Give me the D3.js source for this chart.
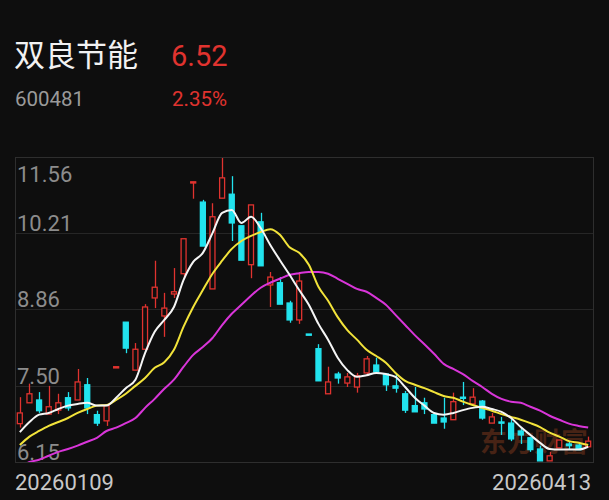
<!DOCTYPE html>
<html>
<head>
<meta charset="utf-8">
<script src="https://cdn.jsdelivr.net/npm/d3@7/dist/d3.min.js"></script>
<style>
  html, body { margin: 0; padding: 0; background: #0e0e0e; }
  svg { display: block; font-family: Roboto, "Noto Sans", sans-serif; }
</style>
</head>
<body>
<svg id="chart" width="609" height="500"></svg>
<script>
// header texts
var stockName = "双良节能", stockCode = "600481", lastPrice = "6.52", changePct = "2.35%";

// y tick labels and x labels
var yTicks = [11.56, 10.21, 8.86, 7.50, 6.15];
var xLabels = ["20260109", "20260413"];

// daily candles
var opens  = [6.83,7.20,7.25,7.00,7.07,7.29,7.25,7.52,6.99,6.88, 7.84,8.63,7.78,8.15,9.06,8.74,9.13,9.49,11.12,10.76,
              9.22,10.83,10.90,10.34,9.65,10.41,9.29,9.33,8.97,8.67, 8.42,8.16,7.36,7.71,7.55,7.48,7.73,7.87,7.71,7.50,
              7.36,7.15,7.20,6.99,6.93,6.90,7.30,7.18,7.23,6.84, 6.86,6.84,6.70,6.58,6.38,6.17,6.40,6.47,6.45,6.42];
var highs  = [7.30,7.54,7.39,7.50,7.36,7.39,7.80,7.64,7.06,7.15, 7.84,8.63,8.26,8.95,9.72,9.15,9.59,10.11,11.12,10.80,
              10.74,11.56,11.22,10.34,10.71,10.57,9.52,9.43,9.01,9.52, 8.42,8.24,7.84,7.75,7.73,7.73,8.03,8.00,7.71,7.71,
              7.41,7.48,7.29,7.02,7.29,7.38,7.57,7.46,7.25,7.02, 6.95,6.91,6.76,6.60,6.44,6.33,6.54,6.51,6.49,6.60];
var lows   = [6.76,7.20,7.02,7.00,7.00,7.06,7.25,7.00,6.79,6.79, 7.84,8.08,7.78,8.15,8.88,8.37,9.06,9.41,10.82,9.98,
              9.22,10.83,10.07,9.73,9.41,9.63,8.90,8.95,8.62,8.60, 8.42,7.59,7.36,7.54,7.48,7.38,7.69,7.75,7.41,7.38,
              7.02,7.04,7.00,6.84,6.74,6.90,7.16,7.18,6.90,6.84, 6.63,6.52,6.47,6.33,6.17,6.17,6.40,6.38,6.37,6.42];
var closes = [7.02,7.36,7.06,7.13,7.20,7.11,7.57,7.11,6.84,7.15, 7.84,8.17,8.15,8.90,9.25,8.88,9.17,10.11,11.12,9.98,
              10.50,11.19,10.39,9.73,10.71,9.63,9.43,8.95,8.67,9.36, 8.42,7.59,7.57,7.64,7.66,7.68,7.98,7.75,7.52,7.46,
              7.07,7.04,7.09,6.84,6.86,7.22,7.29,7.30,6.93,6.95, 6.84,6.56,6.63,6.37,6.17,6.26,6.54,6.44,6.37,6.52];

// moving averages as drawn
var ma5  = [6.68,6.86,6.99,7.02,7.09,7.15,7.18,7.20,7.15,7.15, 7.29,7.46,7.61,8.08,8.46,8.67,8.90,9.38,9.70,9.86,
            10.21,10.57,10.62,10.39,10.50,10.30,10.00,9.73,9.47,9.20, 8.94,8.60,8.32,8.00,7.78,7.66,7.69,7.73,7.71,7.66,
            7.48,7.29,7.15,7.02,6.99,7.02,7.07,7.11,7.13,7.09, 7.04,6.93,6.77,6.63,6.49,6.38,6.37,6.37,6.37,6.42];
var ma10 = [6.45,6.60,6.70,6.79,6.86,6.93,7.02,7.09,7.15,7.16, 7.25,7.36,7.50,7.64,7.82,7.92,8.14,8.55,8.90,9.20,
            9.49,9.72,9.93,10.07,10.16,10.23,10.28,10.18,9.96,9.86, 9.65,9.26,9.01,8.72,8.49,8.32,8.14,8.03,7.91,7.73,
            7.59,7.52,7.46,7.39,7.32,7.29,7.22,7.16,7.11,7.06, 7.00,6.95,6.90,6.84,6.77,6.67,6.60,6.52,6.49,6.45];
var ma20 = [6.05,6.15,6.19,6.26,6.33,6.38,6.44,6.51,6.58,6.70, 6.76,6.84,6.93,7.11,7.27,7.45,7.61,7.84,8.05,8.19,
            8.35,8.58,8.78,8.94,9.10,9.24,9.33,9.40,9.47,9.50, 9.52,9.52,9.49,9.40,9.31,9.22,9.17,9.06,8.94,8.76,
            8.58,8.40,8.24,8.07,7.89,7.80,7.71,7.59,7.48,7.36, 7.27,7.22,7.20,7.13,7.06,6.97,6.90,6.83,6.79,6.76];

var W = 609, H = 500;
var plotL = 15, plotR = 593, plotT = 157, plotB = 462;
var bg = "#0e0e0e", upColor = "#e0332f", downColor = "#22e3ee";

var svg = d3.select("#chart");
svg.append("rect").attr("width", W).attr("height", H).attr("fill", bg);

// header
svg.append("text").attr("x", 14).attr("y", 66).attr("fill", "#f2f2f2")
   .style("font-family", "'Noto Sans CJK SC', sans-serif").style("font-size", "31px")
   .text(stockName);
svg.append("text").attr("x", 171).attr("y", 66).attr("fill", upColor)
   .style("font-size", "29px").text(lastPrice);
svg.append("text").attr("x", 15).attr("y", 106).attr("fill", "#9a9a9a")
   .style("font-size", "20.5px").text(stockCode);
svg.append("text").attr("x", 172).attr("y", 106).attr("fill", upColor)
   .style("font-size", "20.5px").text(changePct);

var idx = d3.range(closes.length);
var x = d3.scaleBand().domain(idx).range([plotL, plotR]).paddingInner(0.38).paddingOuter(0.19);
var y = d3.scaleLinear().domain([yTicks[4], yTicks[0]]).range([plotB, plotT]);

// grid + frame
svg.append("g").selectAll("line").data(yTicks.slice(1, 4)).enter().append("line")
   .attr("x1", plotL).attr("x2", plotR)
   .attr("y1", function(d) { return Math.round(y(d)) + 0.5; })
   .attr("y2", function(d) { return Math.round(y(d)) + 0.5; })
   .attr("stroke", "#262626").attr("stroke-width", 1);
svg.append("rect").attr("x", plotL + 0.5).attr("y", plotT + 0.5)
   .attr("width", plotR - plotL).attr("height", plotB - plotT)
   .attr("fill", "none").attr("stroke", "#2e2e2e");

// watermark
svg.append("text").attr("x", 480).attr("y", 452).attr("fill", "#5a2a18").attr("opacity", 0.75)
   .style("font-family", "'Noto Sans CJK SC', sans-serif").style("font-size", "27px").style("font-weight", "bold")
   .text("东方财富");

// y labels
svg.append("g").selectAll("text").data(yTicks).enter().append("text")
   .attr("x", 17)
   .attr("y", function(d, i) { return i === 0 ? plotT + 25 : y(d) - 2; })
   .attr("fill", "#8c8c8c").style("font-size", "22px")
   .text(function(d) { return d.toFixed(2); });

// x labels
svg.append("text").attr("x", 15).attr("y", 490).attr("fill", "#c8c8c8").style("font-size", "22px").text(xLabels[0]);
svg.append("text").attr("x", 591).attr("y", 490).attr("text-anchor", "end").attr("fill", "#c8c8c8").style("font-size", "22px").text(xLabels[1]);

svg.append("clipPath").attr("id", "plot").append("rect")
   .attr("x", plotL + 1).attr("y", plotT + 1).attr("width", plotR - plotL - 1).attr("height", plotB - plotT - 1);

function colorOf(i) {
  if (closes[i] > opens[i]) return upColor;
  if (closes[i] < opens[i]) return downColor;
  return (i > 0 && closes[i] < closes[i - 1]) ? downColor : upColor;
}

var cx = function(i) { return x(i) + x.bandwidth() / 2; };
var g = svg.append("g").attr("clip-path", "url(#plot)");

var candle = g.selectAll("g.candle").data(idx).enter().append("g").attr("class", "candle");
candle.append("line")
  .attr("x1", function(i) { return Math.round(cx(i)) + 0.5; })
  .attr("x2", function(i) { return Math.round(cx(i)) + 0.5; })
  .attr("y1", function(i) { return y(highs[i]); })
  .attr("y2", function(i) { return y(lows[i]); })
  .attr("stroke", colorOf).attr("stroke-width", 1.3);
candle.append("rect")
  .attr("x", function(i) { return x(i) + 0.5; })
  .attr("width", x.bandwidth() - 1)
  .attr("y", function(i) { return y(Math.max(opens[i], closes[i])); })
  .attr("height", function(i) { return Math.max(1.2, Math.abs(y(opens[i]) - y(closes[i]))); })
  .attr("fill", function(i) { return colorOf(i) === upColor && opens[i] !== closes[i] ? bg : colorOf(i); })
  .attr("stroke", colorOf).attr("stroke-width", 1.3);

var line = d3.line().x(function(d, i) { return cx(i); }).y(function(d) { return y(d); }).curve(d3.curveMonotoneX);
[[ma20, "#d935d9"], [ma10, "#f2e33a"], [ma5, "#f5f5f5"]].forEach(function(s) {
  g.append("path").datum(s[0]).attr("d", line).attr("fill", "none")
   .attr("stroke", s[1]).attr("stroke-width", 2);
});
</script>
</body>
</html>
